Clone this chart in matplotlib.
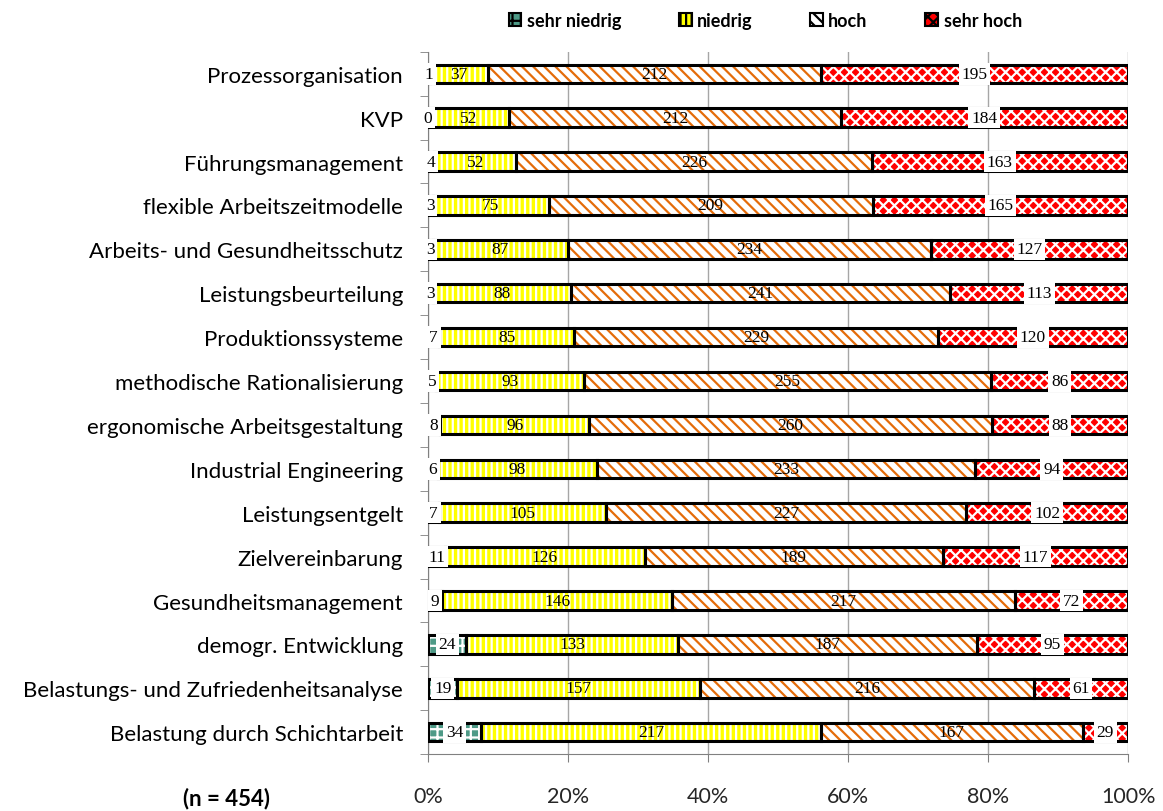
import numpy as np
import matplotlib.pyplot as plt

plt.rcParams['hatch.linewidth'] = 1.6

categories = ['Prozessorganisation', 'KVP', 'Führungsmanagement',
              'flexible Arbeitszeitmodelle', 'Arbeits- und Gesundheitsschutz',
              'Leistungsbeurteilung', 'Produktionssysteme',
              'methodische Rationalisierung', 'ergonomische Arbeitsgestaltung',
              'Industrial Engineering', 'Leistungsentgelt', 'Zielvereinbarung',
              'Gesundheitsmanagement', 'demogr. Entwicklung',
              'Belastungs- und Zufriedenheitsanalyse',
              'Belastung durch Schichtarbeit']
sehr_niedrig = [1, 0, 4, 3, 3, 3, 7, 5, 8, 6, 7, 11, 9, 24, 19, 34]
niedrig = [37, 52, 52, 75, 87, 88, 85, 93, 96, 98, 105, 126, 146, 133, 157, 217]
hoch = [212, 212, 226, 209, 234, 241, 229, 255, 260, 233, 227, 189, 217, 187, 216, 167]
sehr_hoch = [195, 184, 163, 165, 127, 113, 120, 86, 88, 94, 102, 117, 72, 95, 61, 29]
series_names = ['sehr niedrig', 'niedrig', 'hoch', 'sehr hoch']

# face, hatch colour, hatch, white label box?
styles = [('#4e9a87', 'white', '++', True),
          ('#ffff00', 'white', '|||', False),
          ('white', '#e46c0a', '\\\\\\', False),
          ('#ff0000', 'white', 'xxx', True)]

data = np.array([sehr_niedrig, niedrig, hoch, sehr_hoch], dtype=float)
pct = data / data.sum(axis=0) * 100
y = np.arange(len(categories))

fig = plt.figure(figsize=(11.63, 8.12), dpi=100)
ax = fig.add_axes([0.368, 0.070, 0.602, 0.865])

left = np.zeros(len(categories))
for i in range(4):
    face, hc, hatch, boxed = styles[i]
    ax.barh(y, pct[i], left=left, height=0.42, color=face, edgecolor=hc,
            hatch=hatch, linewidth=0, zorder=2)
    ax.barh(y, pct[i], left=left, height=0.42, fill=False, edgecolor='black',
            linewidth=2.2, zorder=3)
    for j in range(len(categories)):
        cx = left[j] + pct[i][j] / 2
        bb = dict(facecolor='white', edgecolor='none', pad=2.0) if boxed else None
        ax.text(cx, y[j], '%d' % data[i][j], ha='center', va='center',
                fontsize=12.5, family='Liberation Serif', zorder=5, bbox=bb)
    left += pct[i]

ax.set_xlim(0, 100)
ax.set_ylim(len(categories) - 0.5, -0.5)
ax.set_xticks(np.arange(0, 101, 20))
ax.set_xticklabels(['%d%%' % v for v in range(0, 101, 20)], fontsize=15.5,
                   family='Lato', color='#262626')
ax.set_yticks(y)
ax.set_yticklabels(categories, fontsize=16, family='Lato')
ax.set_yticks(np.arange(-0.5, len(categories), 1), minor=True)
ax.tick_params(axis='y', which='major', length=0, pad=18)
ax.tick_params(axis='y', which='minor', length=6, color='#808080')
ax.tick_params(axis='x', length=6, color='#808080', pad=17)
ax.xaxis.grid(True, color='#a6a6a6', linewidth=1, zorder=0)
ax.set_axisbelow(True)
for s in ['top', 'right']:
    ax.spines[s].set_visible(False)
for s in ['left', 'bottom']:
    ax.spines[s].set_color('#808080')

# legend
fake = []
for i in range(4):
    face, hc, hatch, boxed = styles[i]
    fake.append(plt.Rectangle((0, 0), 1, 1, facecolor=face, edgecolor='black',
                              hatch=hatch, lw=1.5))
leg = fig.legend(fake, series_names, loc='center', bbox_to_anchor=(0.658, 0.974),
                 ncol=4, frameon=False, handlelength=0.7, handleheight=0.7,
                 handletextpad=0.3, columnspacing=3.2,
                 prop={'family': 'Lato', 'weight': 'bold', 'size': 13})

fig.text(0.195, 0.017, '(n = 454)', fontsize=16, family='Lato',
         fontweight='bold', ha='center', va='center')

fig.savefig('out.png', dpi=100)
